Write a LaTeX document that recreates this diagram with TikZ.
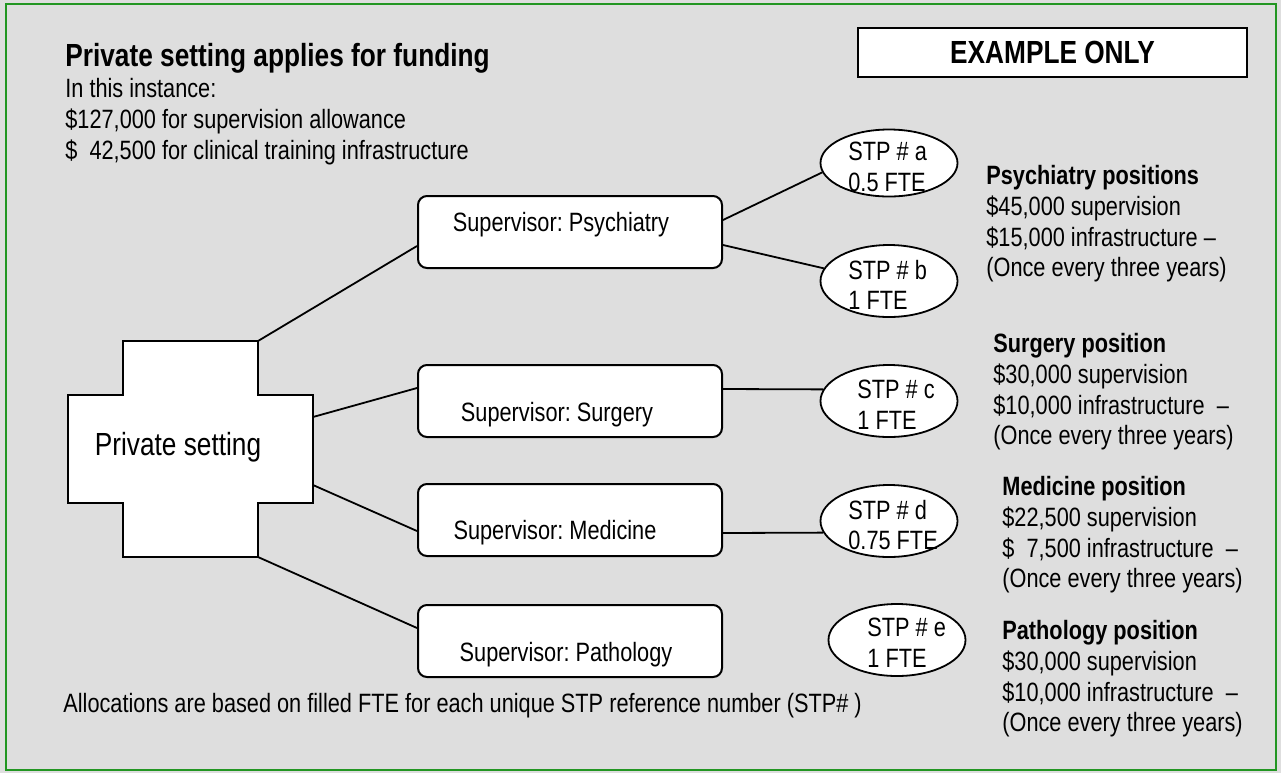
\documentclass[tikz,border=0pt]{standalone}
\usepackage{fontspec}
\setmainfont{Liberation Sans}[FakeStretch=0.82]
\usetikzlibrary{shapes.geometric}
\definecolor{framegreen}{RGB}{34,150,34}
\definecolor{panelgray}{RGB}{222,222,222}
\newcommand{\bodysize}{\fontsize{13.25}{15.35}\selectfont}
\newcommand{\bigsize}{\fontsize{16}{19}\selectfont}
\frenchspacing

\begin{document}
\begin{tikzpicture}[x=0.5pt,y=-0.5pt,
        supbox/.style={draw,line width=1pt,fill=white,rounded corners=4.5pt,
            minimum width=152pt,minimum height=36pt,inner sep=0pt},
        stp/.style={draw,ellipse,line width=0.9pt,fill=white,
            minimum width=68.5pt,minimum height=36pt,inner sep=0pt},
        txt/.style={font=\bodysize,inner sep=0pt,align=left},
        conn/.style={line width=0.9pt}]
\fill[panelgray] (0,0) rectangle (1281,773);
\draw[framegreen,line width=1.2pt] (6,4) rectangle (1276,770);

% heading and totals
\node[font=\bigsize\bfseries,anchor=west,inner sep=0pt] (title) at (65,58) {Private setting applies for funding};
\node[txt,anchor=north west] (instance) at (65,78) {In this instance:\\\$127,000 for supervision allowance\\\$\ \ 42,500 for clinical training infrastructure};
\node[draw,line width=0.9pt,fill=white,minimum width=194.5pt,minimum height=24.5pt,
    inner sep=0pt,font=\bigsize\bfseries] (example) at (1052.5,52.5) {EXAMPLE ONLY};

% private setting cross
\draw[line width=1pt,fill=white] (123,341) -- (258,341) -- (258,395) -- (313,395) -- (313,503)
    -- (258,503) -- (258,557) -- (123,557) -- (123,503) -- (68,503) -- (68,395) -- (123,395) -- cycle;
\node[font=\bigsize,inner sep=0pt] (setting) at (178,447) {Private setting};
\coordinate (crossA) at (258,341);
\coordinate (crossB) at (313,417);
\coordinate (crossC) at (313,485);
\coordinate (crossD) at (258,557);

% supervisors
\node[supbox] (psy) at (570,232) {};
\node[supbox] (sur) at (570,401) {};
\node[supbox] (med) at (570,520) {};
\node[supbox] (pat) at (570,641) {};
\node[txt] (psyt) at (561,225) {Supervisor: Psychiatry};
\node[txt] (surt) at (557,415) {Supervisor: Surgery};
\node[txt] (medt) at (555,533) {Supervisor: Medicine};
\node[txt] (patt) at (566,655) {Supervisor: Pathology};

% STP positions
\node[stp,minimum height=33.5pt] (stpa) at (889,163) {};
\node[stp] (stpb) at (889,281) {};
\node[stp] (stpc) at (889,401) {};
\node[stp] (stpd) at (889,521) {};
\node[stp] (stpe) at (897,640) {};
\node[txt,anchor=west] (stpat) at (848,167) {STP \# a\\0.5 FTE};
\node[txt,anchor=west] (stpbt) at (848,285) {STP \# b\\1 FTE};
\node[txt,anchor=west] (stpct) at (857,405) {STP \# c\\1 FTE};
\node[txt,anchor=west] (stpdt) at (848,525) {STP \# d\\0.75 FTE};
\node[txt,anchor=west] (stpet) at (867,643) {STP \# e\\1 FTE};

\draw[conn] (crossA) -- ([yshift=-7pt]psy.west);
\draw[conn] (crossB) -- ([yshift=6.5pt]sur.west);
\draw[conn] (crossC) -- ([yshift=-5.5pt]med.west);
\draw[conn] (crossD) -- ([yshift=6.5pt]pat.west);
\draw[conn] ([yshift=6pt]psy.east) -- (stpa.188);
\draw[conn] ([yshift=-6.5pt]psy.east) -- (stpb.169);
\draw[conn] ([yshift=6pt]sur.east) -- (stpc.170);
\draw[conn] ([yshift=-6.5pt]med.east) -- (stpd.190);

% amounts per position
\node[txt,anchor=north west] (psypos) at (986,165) {\textbf{Psychiatry positions}\\\$45,000 supervision\\\$15,000 infrastructure --\\(Once every three years)};
\node[txt,anchor=north west] (surpos) at (993,333) {\textbf{Surgery position}\\\$30,000 supervision\\\$10,000 infrastructure\ \ --\\(Once every three years)};
\node[txt,anchor=north west] (medpos) at (1002,476) {\textbf{Medicine position}\\\$22,500 supervision\\\$\ \ 7,500 infrastructure\ \ --\\(Once every three years)};
\node[txt,anchor=north west] (patpos) at (1002,620) {\textbf{Pathology position}\\\$30,000 supervision\\\$10,000 infrastructure\ \ --\\(Once every three years)};

\node[txt,anchor=west] (alloc) at (63,706) {Allocations are based on filled FTE for each unique STP reference number (STP\# )};
\end{tikzpicture}
\end{document}
